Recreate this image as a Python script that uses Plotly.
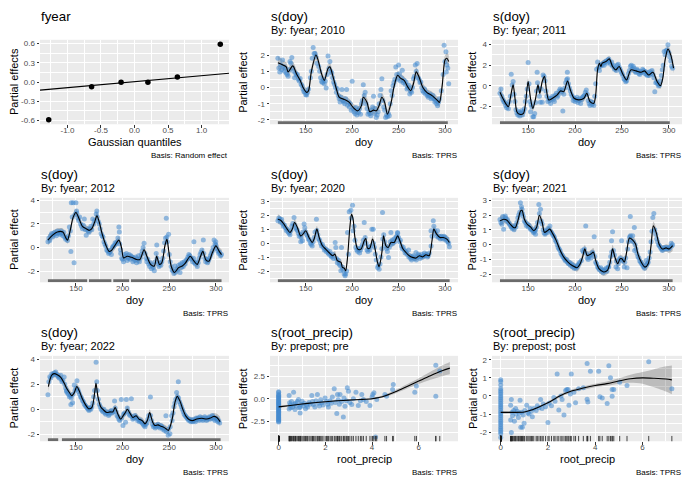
import plotly.graph_objects as go

W, H = 690, 487
OFF = 8            # page body margin of the browser
FW, FH = W - OFF, H - OFF
FONT = "Liberation Sans, Arial, Helvetica, sans-serif"

# ------------------------------------------------------------------ data
fyear_quantiles = [-1.28, -0.64, -0.20, 0.20, 0.64, 1.28]
fyear_effects = [-0.59, -0.075, -0.005, -0.005, 0.08, 0.59]
fyear_qqline_x = [-1.41, 1.41]
fyear_qqline_y = [-0.127, 0.138]

# smooth fits: (doy, estimate, half-width of interval)
fit_2010 = [
    (120, 1.52, 0.40), (126, 1.37, 0.30), (129, 1.27, 0.28), (131, 0.96, 0.26), (136, 1.33, 0.25),
    (140, 0.85, 0.25), (144, 0.44, 0.24), (147, 0.02, 0.24), (151, -0.30, 0.25), (153, -0.20, 0.25),
    (156, 0.96, 0.25), (161, 2.00, 0.27), (163, 1.75, 0.26), (167, 0.85, 0.25), (170, 0.44, 0.25),
    (174, 1.17, 0.26), (176, 1.27, 0.26), (179, 0.75, 0.25), (183, -0.08, 0.25), (186, -0.60, 0.24),
    (192, -0.75, 0.22), (197, -0.92, 0.22), (201, -1.23, 0.24), (206, -1.44, 0.25), (210, -1.12, 0.25),
    (212, -0.60, 0.26), (216, -0.92, 0.25), (219, -1.50, 0.25), (223, -1.40, 0.25), (226, -1.44, 0.25),
    (229, -1.12, 0.25), (232, -0.60, 0.27), (235, -0.92, 0.26), (238, -1.65, 0.28), (242, -0.92, 0.27),
    (245, 0.02, 0.26), (249, 0.75, 0.26), (252, 0.58, 0.25), (256, 0.44, 0.24), (260, 0.02, 0.25),
    (263, -0.20, 0.25), (266, 0.23, 0.26), (269, 0.96, 0.27), (272, 0.65, 0.26), (276, 0.02, 0.25),
    (281, -0.33, 0.24), (286, -0.50, 0.24), (292, -0.81, 0.25), (294, -0.92, 0.27), (297, 0.13, 0.28),
    (300, 1.69, 0.30), (302, 1.80, 0.33), (304, 1.60, 0.40)]

fit_2011 = [
    (120, -0.61, 0.50), (123, -1.19, 0.40), (126, -1.68, 0.35), (129, -2.00, 0.32), (131, -1.19, 0.32),
    (134, 0.10, 0.33), (136, -1.19, 0.32), (138, -2.48, 0.32), (141, -2.74, 0.30), (145, -2.65, 0.30),
    (147, -1.84, 0.32), (150, 0.42, 0.33), (152.5, -1.19, 0.32), (155, -2.16, 0.30), (158, -1.19, 0.30),
    (160.5, 0.10, 0.32), (162.5, -0.71, 0.30), (165, 0.42, 0.30), (167.5, 0.90, 0.32), (169.5, -0.39, 0.30),
    (172, -1.35, 0.30), (176, -1.19, 0.28), (181, -0.87, 0.27), (184.5, -0.48, 0.27), (188, -0.55, 0.27),
    (192, 0.48, 0.30), (195, -0.39, 0.28), (199, -1.19, 0.27), (204, -1.35, 0.27), (209.5, -1.19, 0.28),
    (212.5, -0.71, 0.28), (216, -1.52, 0.30), (220, -1.68, 0.30), (222, -0.87, 0.32), (224, 1.55, 0.33),
    (226, 2.19, 0.30), (227.5, 1.87, 0.28), (229, 2.19, 0.27), (233, 2.35, 0.26), (236.5, 2.61, 0.26),
    (240, 1.87, 0.26), (243.5, 1.55, 0.26), (247, 1.87, 0.26), (250.5, 1.23, 0.27), (255, 0.58, 0.28),
    (259.5, 1.55, 0.27), (265, 1.45, 0.26), (270.5, 1.32, 0.26), (274, 1.45, 0.26), (278.5, 1.06, 0.27),
    (283, 1.32, 0.28), (287.5, 0.42, 0.30), (291, 0.03, 0.32), (293.5, 0.74, 0.32), (296, 2.52, 0.33),
    (299, 3.55, 0.35), (302, 3.00, 0.40), (305, 1.71, 0.50)]

fit_2012 = [
    (120, 0.63, 0.45), (125, 1.05, 0.35), (130, 1.32, 0.30), (136, 1.32, 0.30), (139, 0.85, 0.30),
    (141, 0.63, 0.30), (143.5, 1.32, 0.30), (147, 2.56, 0.32), (150, 2.98, 0.32), (153.5, 2.42, 0.30),
    (157, 1.79, 0.30), (161, 1.60, 0.30), (164.5, 1.46, 0.30), (167, 1.60, 0.30), (170, 2.15, 0.30),
    (172.5, 2.70, 0.32), (175, 2.15, 0.30), (178, 1.18, 0.30), (182, 0.22, 0.28), (185.5, -0.33, 0.28),
    (188, -0.25, 0.30), (191.5, 0.14, 0.30), (196, 0.63, 0.30), (199, -0.06, 0.30), (201, -0.88, 0.28),
    (205, -0.74, 0.28), (209.5, -0.83, 0.28), (215, -1.02, 0.27), (218.5, -1.02, 0.27), (223, -0.19, 0.30),
    (226, -0.74, 0.28), (230, -1.43, 0.28), (234, -1.57, 0.28), (236.5, -0.74, 0.30), (239.5, -1.43, 0.28),
    (242, -1.29, 0.28), (245.5, 0.22, 0.30), (247.5, 0.69, 0.32), (249.5, -0.33, 0.30), (252, -1.57, 0.28),
    (255.5, -2.12, 0.27), (260, -1.71, 0.27), (264, -1.57, 0.27), (267, -1.35, 0.27), (272.5, -0.74, 0.28),
    (276.5, -1.16, 0.27), (280, -1.43, 0.27), (283.5, -0.74, 0.28), (286, -0.33, 0.30), (289, -1.02, 0.28),
    (292.5, -1.16, 0.28), (296, -0.47, 0.30), (300, 0.14, 0.32), (303.5, -0.33, 0.36), (306, -0.60, 0.45)]

fit_2020 = [
    (120, 1.71, 0.35), (123, 1.64, 0.28), (126.5, 1.36, 0.24), (130, 1.00, 0.22), (133, 0.76, 0.22),
    (135.5, 1.00, 0.22), (138, 1.48, 0.23), (141, 1.12, 0.22), (144.5, 0.52, 0.22), (147, 0.64, 0.22),
    (150, 0.88, 0.22), (153.5, 0.40, 0.21), (157, 0.05, 0.21), (159, 0.29, 0.22), (162, 1.00, 0.23),
    (164.5, 0.40, 0.22), (168, -0.19, 0.21), (171.5, -0.43, 0.21), (175, -0.67, 0.21), (179, -0.90, 0.21),
    (181.5, -0.79, 0.22), (184, -1.26, 0.22), (188, -1.38, 0.22), (189.5, -1.74, 0.22), (191.5, -1.79, 0.23),
    (193, -1.98, 0.23), (195, -1.02, 0.24), (197.5, 1.12, 0.25), (199.3, 2.07, 0.26), (201, 1.71, 0.25),
    (203, 0.40, 0.24), (206, -0.43, 0.22), (209.5, -0.43, 0.22), (213, 0.17, 0.23), (214.7, 0.33, 0.23),
    (216.5, -0.36, 0.22), (219, -0.36, 0.22), (222, 0.29, 0.23), (224.5, -0.36, 0.23), (227.3, -1.38, 0.23),
    (229, -1.69, 0.24), (232, -0.67, 0.24), (233.8, 0.52, 0.25), (236.3, -0.19, 0.23), (238.8, -0.31, 0.22),
    (241.7, 0.05, 0.22), (245.3, 0.05, 0.22), (249, 0.52, 0.23), (251.4, 0.17, 0.22), (254.3, -0.36, 0.21),
    (258, -0.67, 0.21), (261.5, -0.90, 0.21), (265, -1.02, 0.21), (268.7, -1.07, 0.21), (272.3, -0.90, 0.21),
    (276, -0.98, 0.21), (279.5, -0.83, 0.21), (283, -0.90, 0.22), (286, 0.17, 0.23), (288, 1.00, 0.24),
    (291, 0.64, 0.23), (294.6, 0.40, 0.23), (298, 0.40, 0.24), (302, 0.29, 0.28), (304.7, 0.05, 0.35)]

fit_2021 = [
    (120, 1.61, 0.35), (124, 1.72, 0.30), (127.5, 1.65, 0.27), (131, 1.38, 0.26), (134.5, 1.16, 0.26),
    (136.5, 1.16, 0.26), (139, 1.61, 0.26), (142, 2.28, 0.27), (143.5, 2.32, 0.27), (146, 1.72, 0.26),
    (149, 1.38, 0.25), (152.5, 1.20, 0.25), (156, 0.94, 0.25), (159, 1.16, 0.26), (162, 1.99, 0.27),
    (165, 1.50, 0.26), (167.5, 0.83, 0.25), (170.5, 0.94, 0.25), (173, 1.05, 0.25), (176.5, 0.71, 0.25),
    (180, 0.27, 0.25), (183.5, -0.29, 0.25), (188, -0.85, 0.25), (192.5, -1.18, 0.26), (197, -1.41, 0.26),
    (202, -1.56, 0.27), (205.5, -1.29, 0.27), (208, -0.85, 0.27), (210.5, -0.29, 0.28), (213, -0.74, 0.27),
    (217, -0.63, 0.27), (219.5, -0.51, 0.28), (222, -1.07, 0.27), (225.5, -1.63, 0.27), (230.5, -1.85, 0.27),
    (234.5, -1.74, 0.27), (237.5, -1.18, 0.27), (240, -0.29, 0.28), (242.5, -0.85, 0.27), (245.5, -1.29, 0.26),
    (248, -0.96, 0.26), (250, -0.96, 0.26), (252.5, -1.18, 0.26), (255, -0.51, 0.27), (258, 0.45, 0.28),
    (261.5, 0.31, 0.28), (264.5, 0.04, 0.28), (267, -0.63, 0.27), (270.5, -1.18, 0.27), (274.5, -1.52, 0.27),
    (278, -1.29, 0.27), (281, -0.07, 0.28), (283.5, 1.27, 0.29), (286.5, 0.83, 0.28), (289.5, 0.04, 0.27),
    (293, -0.29, 0.26), (297, -0.22, 0.27), (300.5, -0.29, 0.30), (304, -0.07, 0.36)]

fit_2022 = [
    (120.5, 1.81, 0.40), (122, 2.33, 0.32), (124, 2.71, 0.28), (126.5, 2.84, 0.26), (130, 2.76, 0.25),
    (134, 2.53, 0.25), (137.5, 2.07, 0.25), (140, 1.68, 0.25), (143, 1.34, 0.25), (145.5, 1.09, 0.25),
    (148, 1.29, 0.25), (151, 1.81, 0.26), (153.5, 1.47, 0.25), (156.5, 0.90, 0.25), (160, 0.39, 0.25),
    (163.5, 0.05, 0.25), (167, 0.13, 0.25), (170, 1.29, 0.27), (171.5, 2.07, 0.28), (173.5, 1.03, 0.27),
    (176.5, 0.21, 0.25), (179.5, -0.05, 0.25), (183, -0.26, 0.25), (186.5, -0.21, 0.25), (189.5, -0.21, 0.25),
    (192, 0.13, 0.26), (195, -0.39, 0.25), (198, -0.78, 0.25), (200.5, -0.52, 0.25), (203, -0.26, 0.25),
    (205, 0.00, 0.26), (208.5, -0.39, 0.25), (211, -0.65, 0.25), (214.5, -0.52, 0.25), (217.5, -0.78, 0.25),
    (221, -0.90, 0.25), (224, -1.16, 0.25), (226.5, -0.90, 0.25), (229, -0.26, 0.26), (232, -0.98, 0.25),
    (234.5, -1.29, 0.25), (238, -1.24, 0.25), (240.5, -1.34, 0.25), (243.5, -1.42, 0.25), (246.5, -1.55, 0.25),
    (249, -1.68, 0.25), (251.5, -1.24, 0.26), (253.5, -0.65, 0.27), (256, 0.52, 0.28), (258.5, 1.03, 0.28),
    (261.5, 0.65, 0.27), (264.5, 0.00, 0.26), (268, -0.57, 0.25), (271.5, -0.83, 0.25), (275, -0.90, 0.25),
    (279.5, -0.78, 0.25), (285, -0.72, 0.25), (290, -0.78, 0.25), (294, -0.70, 0.26), (297.5, -0.57, 0.27),
    (301, -0.65, 0.30), (304.5, -0.98, 0.38)]

fit_pre = [
    (0, -0.90, 0.15), (0.5, -0.74, 0.10), (1.0, -0.58, 0.08), (1.5, -0.44, 0.08), (2.0, -0.32, 0.08),
    (2.5, -0.22, 0.08), (3.0, -0.14, 0.08), (3.5, -0.07, 0.09), (4.0, 0.02, 0.10), (4.3, 0.15, 0.12),
    (4.6, 0.38, 0.15), (5.0, 0.80, 0.20), (5.5, 1.40, 0.25), (6.0, 2.00, 0.32), (6.5, 2.60, 0.45),
    (7.0, 3.15, 0.60), (7.33, 3.45, 0.70)]

fit_post = [
    (0, -0.91, 0.08), (0.5, -0.91, 0.05), (1.0, -0.89, 0.05), (1.3, -0.78, 0.05), (1.6, -0.62, 0.06),
    (2.0, -0.38, 0.07), (2.5, 0.00, 0.08), (3.0, 0.27, 0.08), (3.5, 0.44, 0.10), (4.0, 0.58, 0.10),
    (4.5, 0.68, 0.12), (5.0, 0.83, 0.15), (5.5, 0.95, 0.22), (6.0, 1.00, 0.32), (6.5, 0.98, 0.50),
    (7.0, 0.94, 0.70), (7.25, 0.89, 0.80)]

# partial residuals: (x, residual)
res_2010 = [
    (120, 1.8), (121, 1.2), (122, 0.95), (123, 1.4), (124, 1.1), (125, 1.7), (126, 1.3), (127, 1.0), (128, 1.2),
    (129, 0.9), (130, 0.8), (131, 0.7), (132, 1.1), (133, 1.6), (134, 1.5), (135, 1.85), (136, 1.2), (137, 1.0),
    (138, 0.6), (139, 0.9), (140, 0.75), (141, 0.8), (142, 0.5), (143, 0.4), (144, 0.55), (145, 0.2), (146, 0.1),
    (147, -0.1), (148, -0.25), (149, -0.3), (150, -0.45), (151, -0.46), (152, -0.3), (153, -0.1), (155, 0.6),
    (156, 1.0), (157, 1.8), (158, 2.46), (159, 2.1), (160, 2.1), (161, 1.9), (162, 1.5), (164, 1.3), (165, 1.0),
    (166, 0.6), (167, 0.37), (168, 0.3), (169, 0.5), (170, 0.23), (171, 0.4), (172, -0.04), (173, 0.8),
    (174, 1.94), (175, 1.17), (176, 1.6), (177, 1.0), (178, 0.9), (179, 0.6), (180, 0.33), (181, 0.2), (182, 0.0),
    (183, -0.3), (184, -0.08), (185, -0.5), (186, -0.7), (187, -0.9), (188, -0.6), (189, -0.13), (190, -0.8),
    (191, -0.9), (192, -1.0), (193, -0.7), (194, -0.13), (195, -1.1), (196, -0.9), (197, -1.2), (198, -1.0),
    (199, -1.4), (200, 0.38), (201, -1.3), (202, -1.5), (203, -1.6), (204, -1.23), (205, -1.7), (206, -1.4),
    (207, -1.55), (208, -1.3), (209, -1.65), (210, -1.0), (211, -0.8), (212, 0.17), (213, -0.5), (214, -0.3),
    (215, -1.0), (216, -1.3), (217, -1.65), (218, -1.5), (219, -1.6), (220, -1.75), (221, -1.4), (222, -1.2),
    (223, -0.54), (224, -1.6), (225, -1.3), (226, -1.85), (227, -1.7), (228, -1.5), (229, -1.0), (230, -0.5),
    (231, -0.13), (232, 0.54), (233, -0.8), (234, -1.2), (235, -1.4), (236, -1.85), (237, -1.7), (238, -1.8),
    (239, -1.6), (240, -1.75), (241, -1.0), (242, -0.2), (243, -0.5), (244, 0.1), (245, 0.3), (246, 0.5),
    (247, 1.27), (248, 0.8), (249, 0.5), (250, 1.38), (251, 0.85), (252, 0.4), (253, 0.6), (254, 1.06), (255, 0.3),
    (256, 0.45), (257, 0.2), (258, 0.33), (259, -0.1), (260, 0.0), (261, 0.13), (262, -0.4), (263, -0.2),
    (264, -0.3), (265, 0.0), (266, 0.54), (267, 0.7), (268, 1.38), (269, 1.0), (270, 1.48), (271, 0.6), (272, 0.5),
    (273, 0.3), (274, 0.33), (275, 0.0), (276, -0.2), (277, -0.3), (278, -0.1), (279, -0.4), (280, -0.3),
    (281, -0.5), (282, -0.6), (283, -0.5), (284, -0.4), (285, -0.7), (286, -0.6), (287, -0.5), (288, -0.7),
    (289, -0.9), (290, -0.8), (291, -1.0), (292, -1.12), (293, -0.9), (294, -0.7), (296, -0.2), (298, 0.8),
    (299, 2.6), (300, 1.6), (301, 2.2), (301.4, 0.96), (302, 1.38), (303, 1.2), (304, 0.23)]

res_2011 = [
    (120, -0.7), (121, -0.3), (122, -1.0), (123, -1.3), (124, -1.5), (125, -1.6), (126, -1.9), (127, -2.1),
    (128, -1.8), (129, -2.2), (130, -1.5), (131, -1.0), (132, 1.13), (133, 0.1), (134, 0.42), (135, -0.8),
    (136, -1.5), (137, -2.3), (138, -2.6), (139, -2.8), (140, -2.5), (141, -2.9), (142, -2.6), (143, -2.4),
    (144, -2.8), (145, -2.5), (146, -2.2), (147, -1.5), (148, -1.0), (149, -0.3), (150, 2.26), (151, 0.2),
    (152, -1.5), (152.5, -2.48), (153, -1.8), (154, -2.0), (155, -2.97), (156, -2.97), (157, -2.65), (158, -1.6),
    (159, -0.5), (159.6, 1.32), (160, 0.3), (161, -0.2), (162, -1.0), (163, -1.58), (164, -0.3), (165, -1.58),
    (166, 1.06), (167, 0.9), (168, 0.5), (169, -0.5), (170, -1.0), (171, -1.5), (172, -1.2), (173, -1.4),
    (174, -1.7), (175, -1.2), (176, -1.0), (177, -1.3), (178, -1.5), (179, -0.9), (180, -0.7), (181, -1.1),
    (182, -0.9), (183, -0.5), (184, -0.3), (185, -0.6), (186, -0.4), (187, -2.42), (188, -0.8), (189, -0.2),
    (190, 0.3), (191, 0.6), (191.8, 1.32), (192, 0.7), (193, 0.2), (194, -0.2), (195, -0.5), (196, -0.8),
    (197, -1.0), (198, -1.4), (199, -1.2), (200, -1.5), (201, -1.3), (202, -1.1), (203, -1.6), (204, -1.4),
    (205, -1.2), (206, -1.7), (207, -1.3), (208, -1.1), (209, -1.0), (210, -0.9), (211, -0.6), (212, -0.4),
    (213, -0.8), (214, -1.4), (215, -1.7), (216, -1.9), (217, -1.5), (218, -1.8), (219, -1.6), (220, -1.9),
    (221, -1.0), (222, 0.2), (223, 1.6), (224, 2.3), (225, 1.8), (226, 1.5), (227, 1.9), (228, 2.1), (229, 2.0),
    (230, 2.2), (231, 2.0), (232, 2.3), (233, 2.4), (234, 2.2), (235, 2.5), (236, 2.6), (237, 2.3), (238, 2.1),
    (239, 2.3), (240, 1.9), (241, 2.0), (242, 1.6), (243, 1.7), (244, 1.5), (245, 2.0), (246, 2.1), (247, 1.8),
    (248, 1.6), (249, 1.4), (250, 1.2), (251, 1.0), (252, 0.7), (253, 0.6), (254, 0.4), (255, 0.5), (256, 0.8),
    (257, 1.2), (258, 1.5), (259, 1.9), (260, 2.0), (261, 1.6), (262, 1.9), (263, 1.7), (264, 1.4), (265, 1.3),
    (266, 1.6), (267, 1.5), (268, 1.2), (269, 1.1), (270, 1.4), (271, 1.3), (272, 1.6), (273, 1.5), (274, 1.2),
    (275, 1.4), (276, 1.1), (277, 1.0), (278, 1.3), (279, 1.0), (280, 1.4), (281, 1.2), (282, 1.5), (283, 1.1),
    (284, 0.8), (285, -0.55), (286, 0.3), (287, 0.4), (288, 0.2), (289, 0.0), (290, 0.1), (291, 0.5), (292, 1.0),
    (293, 1.55), (294, 2.0), (295, 3.32), (296, 3.0), (297, 3.4), (298, 3.5), (299, 3.97), (300, 3.2),
    (301, 2.8), (302, 2.4), (303, 1.9), (304, 1.7)]

res_2012 = [
    (120, 0.5), (121, 0.8), (122, 0.6), (123, 1.0), (124, 1.2), (125, 0.9), (126, 1.1), (127, 1.3), (128, 1.2),
    (129, 1.0), (130, 1.4), (131, 1.2), (132, 1.3), (133, 1.1), (134, 1.4), (135, 1.2), (136, 1.0), (137, 1.3),
    (138, 0.9), (139, 0.7), (140, 0.8), (141, 0.6), (142, 1.0), (143, 1.74), (144, 1.4), (144.6, -0.33),
    (145, 3.8), (146, 2.6), (147, 3.8), (148, -1.29), (149, 2.8), (150, 3.8), (150.7, 3.1), (151, 2.9),
    (152, 2.5), (153, 2.3), (154, 2.6), (155, 2.0), (156, 1.8), (157, 1.6), (158, 1.9), (159, 2.42), (160, 1.5),
    (161, 1.05), (162, 1.6), (163, 1.4), (164, 1.3), (165, 1.6), (166, 1.8), (167, 1.5), (168, 2.42), (169, 2.0),
    (170, 2.3), (171.7, 2.84), (172.4, 3.1), (173, 2.6), (174, 2.2), (175, 2.0), (176, 1.6), (177, 1.2),
    (178, 1.0), (179, 0.9), (180, 0.5), (181, 0.3), (182, 0.1), (183, -0.2), (184, -0.3), (185, -0.5),
    (186, -0.4), (187, -0.2), (188, -0.6), (189, 0.0), (190, 0.1), (191, 0.2), (192, 0.4), (193, 0.3), (194, 0.5),
    (195, 0.8), (196, 1.74), (196.5, 1.32), (197, 0.3), (197.7, -0.19), (198, -0.5), (199, -0.9), (200, -1.0),
    (201, -1.2), (202, -0.6), (203, -0.8), (204, -0.5), (205, -1.1), (206, -0.9), (207, -0.6), (208, -1.0),
    (209, -0.7), (210, -0.8), (211, -1.2), (212, -0.9), (213, -1.1), (214, -0.8), (215, -1.3), (216, -1.0),
    (217, -0.7), (218, -1.2), (219, -0.9), (220, -0.6), (221, -0.3), (222, 0.0), (223, 0.36), (224, -0.5),
    (225, -0.9), (226, -1.2), (227, -1.0), (228, -1.4), (229, -1.6), (230, -1.3), (231, -1.8), (232, -1.5),
    (233, -1.7), (234, -1.98), (235, -1.2), (236, -0.5), (236.6, 0.22), (237, -0.9), (238, -1.4), (239, -1.6),
    (240, -1.3), (241, -1.5), (242, -1.2), (243, -0.9), (244, -0.3), (245, 0.4), (246, 0.8), (246.8, 2.48),
    (247.5, 0.9), (248, 0.5), (249.3, 1.13), (250, -0.6), (251, -1.2), (252, -1.6), (253, -1.9), (254, -2.0),
    (255, -2.2), (256, -1.57), (257, -2.1), (258, -1.8), (259, -1.9), (260, -1.5), (261.5, -2.12), (262, -1.4),
    (263, -1.7), (264, -1.3), (265, -1.6), (266, -1.2), (267, -1.4), (268, -1.1), (269, -1.0), (270, -0.8),
    (271, -0.6), (272, -0.7), (273, -0.9), (274, -1.0), (275, -1.2), (276, -0.9), (276.4, 0.5), (277, -1.3),
    (278, -1.4), (279, -1.2), (280, -1.6), (281, -1.3), (282, -0.9), (283, -0.6), (284, -0.4), (285, -0.2),
    (286.5, 0.63), (287, -0.5), (288, -0.9), (289, -1.2), (290, -1.0), (291, -1.3), (292, -1.1), (293, -0.9),
    (294, -0.7), (295, -0.5), (296, -0.3), (297, 0.0), (298, 0.63), (299, 0.3), (299.8, 0.5), (300, 0.2),
    (301, -0.1), (302, -0.3), (303, -0.5), (304, -0.4), (305, -0.7), (306, -0.6)]

res_2020 = [
    (120, 1.6), (121, 1.8), (122, 1.7), (123, 1.5), (124, 1.7), (125, 1.4), (126, 1.2), (127, 1.3), (128, 1.1),
    (129, 0.9), (130, 1.0), (131, 0.8), (132, 0.7), (133, 0.6), (134, 0.9), (135, 1.2), (136, 1.4), (137.4, 1.83),
    (138, 1.3), (139, 1.1), (140, 1.0), (141, 0.9), (142, 0.7), (143, 0.5), (144, 0.6), (144.6, 0.1), (145, 0.4),
    (146.4, 0.17), (147, 0.8), (148.2, 1.36), (149, 1.1), (150, 0.8), (151, 0.6), (152, 0.5), (153, 0.3),
    (154, 0.2), (155, 0.0), (156, -0.1), (157, -0.2), (158, 0.1), (159, 0.4), (160, 0.8), (161.5, 1.71),
    (162, 0.9), (163, 0.6), (164, 0.3), (165, 0.2), (166, 0.0), (167, -0.2), (168, -0.1), (169, -0.3),
    (170, -0.5), (171, -0.4), (172, -0.6), (173, -0.5), (174, -0.7), (175, -0.8), (176, -0.6), (177, -0.9),
    (178, -1.0), (179, -0.8), (180, -1.1), (181.7, 0.05), (182.4, -0.31), (183, -1.1), (184, -1.4), (185, -1.2),
    (186, -1.5), (187, -1.6), (187.8, -1.98), (188.5, -0.31), (189, -1.7), (190, -1.9), (191.4, -2.21),
    (192.4, -2.33), (193, -2.2), (194, -2.0), (195, 0.76), (196, -0.8), (196.8, 2.24), (198.6, 2.36), (199, 1.8),
    (200.4, 2.71), (201, 0.88), (202, 1.2), (203, 0.2), (204, -0.3), (205, -0.5), (206, -0.6), (207, -0.4),
    (208, -0.7), (209, -0.5), (210, -0.3), (211, -0.1), (212, 0.2), (213, 1.48), (214, 0.4), (215, 0.0),
    (216, -0.5), (217, -0.6), (218, -0.3), (219, -0.5), (220, -0.2), (221.2, 1.0), (222.7, 1.0), (223, 0.0),
    (224, -0.3), (225, -0.8), (226, -1.2), (227.3, -1.74), (228, -1.6), (229.1, -1.86), (230, -1.5), (231, -1.0),
    (232, -0.4), (232.7, 2.19), (233, 0.3), (234, 0.6), (235, 0.1), (236, -0.2), (237, -0.4), (238, -0.6),
    (239.2, -1.02), (240, -0.3), (241, 0.1), (241.7, 0.76), (242, -0.1), (243, 0.2), (244, 0.0), (245, 0.3),
    (246, 0.1), (247, 0.4), (248, 0.5), (248.9, 0.76), (249, 0.7), (250, 0.4), (251, 0.1), (252, 0.2),
    (253, -0.2), (254, -0.4), (255, -0.3), (256, -0.5), (257, -0.7), (258, -0.6), (259, -0.8), (260.8, -0.5),
    (261, -1.0), (262, -0.9), (263, -1.1), (264, -1.2), (265, -1.0), (266, -0.9), (267, -1.1), (268.7, -0.67),
    (269, -1.2), (270, -1.0), (271, -0.8), (272, -0.9), (273, -1.1), (274, -1.0), (275, -0.8), (276, -1.0),
    (277, -0.9), (278, -0.7), (279, -0.9), (280, -0.8), (281, -1.0), (282, -0.9), (283, -0.7), (284.9, 0.88),
    (285, -0.2), (286, 0.5), (287.4, 1.6), (288, 1.2), (289, 0.9), (290, 0.7), (291, 0.5), (292, 0.88),
    (293, 0.4), (294, 0.5), (295, 0.3), (296, 0.5), (297, 0.4), (298, 0.3), (299, 0.5), (300, 0.4), (301, 0.2),
    (302, 0.3), (303, 0.1), (304, 0.0), (304.7, -0.26)]

res_2021 = [
    (120, 1.7), (121, 1.5), (122, 1.38), (123, 1.9), (123.9, 1.05), (124, 1.7), (125.7, 1.94), (126, 1.8),
    (127, 1.6), (128, 1.7), (129, 1.5), (130, 1.4), (131, 1.3), (132, 1.2), (133, 1.1), (134, 1.2), (135, 1.0),
    (136, 1.3), (137, 1.2), (138, 1.5), (139, 1.8), (140, 2.0), (141, 2.2), (141.8, 2.83), (142.9, 2.57),
    (143.5, 2.4), (144, 2.1), (145, 1.9), (146, 1.6), (147, 1.5), (148, 1.3), (149, 1.4), (150, 1.2), (151, 1.3),
    (152.5, 1.05), (153, 1.1), (154, 1.0), (155, 0.9), (156, 0.8), (157, 0.9), (157.9, 0.71), (158, 1.0),
    (159, 1.2), (160, 1.5), (161.4, 2.72), (162, 2.1), (163.2, 2.39), (164, 1.6), (165, 1.4), (166, 1.0),
    (167, 0.8), (168, 0.7), (169, 0.9), (170, 0.8), (171, 1.1), (172, 1.0), (173.2, 1.27), (174, 0.9), (175, 0.8),
    (176, 0.7), (177, 0.6), (178, 0.5), (179, 0.3), (180, 0.2), (181, 0.0), (182, -0.2), (183, -0.3), (184, -0.4),
    (185, -0.6), (186, -0.7), (187, -0.8), (188, -0.9), (189, -1.0), (190, -1.1), (191, -1.0), (192, -1.2),
    (193, -1.3), (194, -1.2), (195, -1.4), (196, -1.3), (197, -1.5), (198, -1.4), (199, -1.6), (200, -1.5),
    (201, -1.6), (202, -1.5), (203, -1.4), (204, -1.3), (205, -1.2), (206.8, -1.07), (207.9, -0.4), (209, -0.5),
    (210, -0.3), (211.4, 1.27), (212, -0.6), (213, -0.9), (214, -1.0), (215, -0.8), (216, -0.7), (217, -0.9),
    (218.6, -0.51), (219, -0.6), (220.4, 0.54), (221, -0.8), (222, -1.2), (223, -1.3), (224, -1.5), (225, -1.6),
    (226, -1.7), (227.5, -1.56), (228, -1.8), (229, -1.7), (230, -1.9), (231, -1.8), (232, -1.7), (233, -1.6),
    (234, -1.8), (235.4, -1.52), (236, -1.5), (237, -1.2), (238, -0.8), (238.9, 0.27), (239, -0.5), (240, 0.87),
    (241, -0.4), (242, -0.7), (243.6, -1.52), (244, -1.1), (245.4, -1.63), (246, -1.3), (247, -1.0), (248, -0.9),
    (249.6, 0.27), (250, -1.1), (251, -1.0), (252.5, -1.52), (253, -1.2), (254, -0.9), (255.4, -1.56),
    (256, -0.3), (257, 0.2), (258, 0.5), (258.9, 1.9), (259, 0.6), (260, 0.3), (261.4, 0.6), (262, 0.2),
    (263.2, 1.16), (263.5, -0.4), (264, 0.0), (265, -0.3), (266, -0.6), (267, -0.8), (268, -0.9), (269, -1.1),
    (270, -1.2), (271, -1.3), (272, -1.4), (273, -1.5), (274, -1.6), (275.7, -1.07), (276, -1.4), (277, -1.3),
    (278, -1.2), (279, -0.9), (280, -0.5), (281, 0.2), (282, 0.9), (282.9, 1.83), (284, 2.1), (285, 1.0),
    (286, 0.7), (287, 0.4), (288, 0.2), (289, 0.0), (290, -0.1), (291, -0.2), (292, -0.3), (293, -0.4),
    (294, -0.3), (295, -0.2), (296, -0.3), (297, -0.2), (298, -0.3), (299, -0.2), (300, -0.3), (301, -0.2),
    (302.5, 0.09), (303, -0.1), (304, 0.0)]

res_2022 = [
    (120, 1.16), (121, 2.2), (122, 2.6), (123, 2.5), (124.1, 2.84), (125, 2.7), (126, 2.8), (127, 2.9),
    (128.4, 2.97), (129, 2.8), (130, 2.7), (131, 2.6), (132, 2.5), (133.8, 2.71), (134, 2.4), (135, 2.2),
    (136, 2.3), (137.4, 2.58), (138, 2.0), (139, 1.7), (139.9, 1.42), (140, 1.5), (141, 1.3), (142, 1.2),
    (143, 1.0), (144, 1.1), (144.6, 0.39), (145, 0.9), (146.4, 0.52), (147, 1.2), (148.2, 1.94), (149, 1.5),
    (150, 1.7), (151.1, 2.27), (152, 1.6), (153, 1.4), (154, 1.2), (155, 1.0), (156, 0.9), (157, 0.7), (158, 0.6),
    (159, 0.4), (160, 0.3), (161, 0.2), (162, 0.1), (163, 0.0), (164, -0.1), (165, 0.1), (166, 0.0), (167, 0.2),
    (168, 0.5), (169, 1.0), (170, 1.5), (171.6, 3.75), (172.3, 2.2), (173, 1.5), (174, 0.8), (175, 0.4),
    (176, 0.2), (177, 0.0), (178, -0.1), (179, -0.2), (180, 0.0), (181, -0.3), (182, -0.4), (183, -0.2),
    (184, -0.3), (185, -0.5), (186, -0.4), (187, -0.2), (188, -0.1), (189, -0.3), (190, -0.2), (191.4, 0.65),
    (192, 0.1), (193, -0.2), (194, -0.5), (195, -0.6), (196, -0.8), (197, -0.9), (198.6, 0.78), (199, -0.7),
    (200.4, -1.29), (201, -0.4), (202, -0.3), (203.2, -1.03), (204, 0.78), (205, 0.1), (206, -0.2), (207, -0.4),
    (208, -0.5), (209.4, 0.83), (210, -0.6), (211, -0.8), (212, -0.7), (213, -0.5), (214, -0.6), (215, -0.7),
    (216, -0.9), (217, -0.8), (218, -1.0), (219, -0.9), (220, -1.0), (221, -1.1), (222, -1.2), (223, -1.3),
    (224, -1.4), (225, -1.2), (226, -1.1), (227, -0.8), (228, -0.5), (229.8, 0.98), (230, -0.5), (231, -0.9),
    (232, -1.2), (233, -1.4), (234, -1.3), (235, -1.5), (236, -1.4), (237, -1.3), (238, -1.2), (239, -1.4),
    (240, -1.5), (241, -1.3), (242, -1.4), (243, -1.6), (244, -1.5), (245, -1.7), (246.4, -0.52), (247, -1.8),
    (248.9, -2.07), (249, -1.6), (250.7, -1.94), (251, -1.4), (252.5, -0.52), (253, -0.9), (254, -0.3),
    (255, 0.2), (256, 0.5), (257, 0.8), (257.9, 1.34), (258.6, 1.0), (259.7, 2.2), (260, 0.9), (261, 0.6),
    (262, 0.4), (263, 0.2), (264, 0.0), (265, -0.2), (266, -0.4), (267, -0.5), (268, -0.6), (269, -0.7),
    (270, -0.8), (271, -0.9), (272, -0.8), (273, -1.0), (274, -0.9), (275, -1.0), (276, -0.8), (277, -0.9),
    (278, -1.0), (279, -0.7), (280, -0.8), (281, -0.7), (282, -0.9), (283, -0.6), (284, -0.8), (285, -0.7),
    (286, -0.9), (287, -0.8), (288, -0.6), (289, -0.7), (290, -0.9), (291, -0.8), (292, -0.7), (293, -0.6),
    (294, -0.8), (295, -0.7), (296, -0.5), (297, -0.6), (298, -0.8), (299, -0.9), (300, -0.7), (301, -0.8),
    (302, -1.0), (303, -0.9), (304, -1.1)]

res_pre = [
    (0, 0.8), (0, 0.7), (0, 0.5), (0, 0.4), (0, 0.3), (0, 0.2), (0, 0.1), (0, 0.0), (0, -0.1), (0, -0.2),
    (0, -0.3), (0, -0.4), (0, -0.5), (0, -0.6), (0, -0.7), (0, -0.8), (0, -0.9), (0, -1.0), (0, -1.1),
    (0, -1.2), (0, -1.3), (0, -1.4), (0, -1.5), (0, -1.6), (0, -1.7), (0, -1.8), (0, -1.9), (0, -2.0),
    (0, -2.1), (0, -2.2), (0, -2.3), (0, -2.4), (0, -2.5), (0, -2.6),
    (0.45, 0.38), (0.45, -1.13), (0.47, -0.45), (0.5, -0.7), (0.52, -1.0), (0.55, -0.3), (0.6, -0.9),
    (0.64, 0.75), (0.66, -0.6), (0.7, -1.2), (0.72, -0.5), (0.75, -0.8), (0.8, -0.3), (0.85, -0.08),
    (0.88, -1.0), (0.92, -1.58), (0.92, -0.9), (0.95, -0.6), (1.0, -0.26), (1.05, -0.8), (1.1, -0.5),
    (1.15, -1.1), (1.2, -0.7), (1.24, -0.9), (1.3, -0.4), (1.35, -0.6), (1.42, 0.38), (1.45, -0.3),
    (1.49, -0.64), (1.55, -0.9), (1.6, -0.2), (1.66, 0.49), (1.7, -0.5), (1.75, -0.8), (1.8, -0.1),
    (1.85, -0.45), (1.9, -0.7), (1.99, 0.11), (2.05, -0.3), (2.1, -0.6), (2.13, -0.9), (2.2, -0.2),
    (2.25, -0.5), (2.3, 0.2), (2.38, 1.13), (2.42, -0.4), (2.49, -1.65), (2.52, 0.49), (2.55, -0.1),
    (2.6, -0.6), (2.63, 0.49), (2.7, -0.3), (2.77, -2.03), (2.8, 0.1), (2.84, -0.83), (2.9, -0.2),
    (2.94, 1.24), (2.99, 0.86), (3.05, -0.4), (3.13, -0.64), (3.2, 0.0), (3.31, 0.75), (3.41, -0.75),
    (3.5, -0.2), (3.56, 0.49), (3.63, -0.08), (3.75, -0.3), (3.91, -0.75), (4.0, 0.2), (4.03, 0.49),
    (4.08, 0.68), (4.15, -4.29), (4.2, -0.08), (4.55, 0.49), (4.62, 0.3), (4.88, 1.05), (4.91, 1.62),
    (5.83, 0.75), (5.9, 1.43), (6.73, 3.76), (6.73, 0.3), (6.9, 3.12)]

res_post = [
    (0, 0.9), (0, 0.8), (0, 0.6), (0, 0.4), (0, 0.3), (0, 0.2), (0, 0.1), (0, 0.0), (0, -0.1), (0, -0.2),
    (0, -0.3), (0, -0.4), (0, -0.5), (0, -0.6), (0, -0.7), (0, -0.8), (0, -0.9), (0, -1.0), (0, -1.1),
    (0, -1.2), (0, -1.3), (0, -1.4), (0, -1.5), (0, -1.6), (0, -1.7), (0, -1.8), (0, -1.9), (0, -2.0),
    (0, -2.1), (0, -2.3),
    (0.42, -0.51), (0.42, -1.33), (0.45, -0.2), (0.45, -2.02), (0.48, -0.9), (0.5, -1.1), (0.55, -0.8),
    (0.58, -1.4), (0.63, -0.69), (0.65, -1.0), (0.7, -0.85), (0.75, -1.2), (0.78, -0.95), (0.82, -0.24),
    (0.85, -1.73), (0.88, -0.9), (0.92, -1.73), (0.95, -1.05), (0.99, -1.51), (1.02, -0.8), (1.1, -0.51),
    (1.15, -0.95), (1.2, -1.0), (1.25, -0.7), (1.3, -0.85), (1.34, -1.15), (1.4, -0.7), (1.5, -0.8),
    (1.55, -0.55), (1.62, -0.65), (1.69, -0.2), (1.75, -0.7), (1.8, -0.45), (1.9, -0.6), (2.0, -1.47),
    (2.05, -0.4), (2.15, -0.55), (2.25, -0.09), (2.3, -0.3), (2.39, 1.22), (2.46, -0.78), (2.55, 0.0),
    (2.6, -0.2), (2.68, -1.05), (2.75, 0.3), (2.8, 0.35), (2.85, 0.35), (2.89, -0.51), (2.95, 0.1),
    (2.99, 1.22), (3.1, 0.2), (3.17, -0.38), (3.3, 0.4), (3.5, 0.45), (3.66, 1.8), (3.66, -0.18),
    (3.69, -0.33), (3.8, 1.36), (4.15, 1.36), (4.2, -0.05), (4.3, -0.11), (4.51, -0.42), (4.58, 1.67),
    (4.65, 1.0), (4.72, 0.35), (4.72, -0.02), (4.79, 0.35), (5.04, 0.76), (5.35, 0.58), (6.27, 1.89),
    (7.25, 0.4)]

# rug: observed day-of-year runs
rug_2010 = [(120, 303)]
rug_2011 = [(120, 301)]
rug_2012 = [(120, 162), (164, 188), (190, 207), (209, 306)]
rug_2020 = [(120, 305)]
rug_2021 = [(120, 304)]
rug_2022 = [(120, 131), (135, 305)]

# axis ticks
q_ticks = [-1.0, -0.5, 0.0, 0.5, 1.0]
q_ticktext = ["-1.0", "-0.5", "0.0", "0.5", "1.0"]
q_minor = [-1.25, -0.75, -0.25, 0.25, 0.75, 1.25]
qe_ticks = [-0.6, -0.3, 0.0, 0.3, 0.6]
qe_ticktext = ["-0.6", "-0.3", "0.0", "0.3", "0.6"]
qe_minor = [-0.45, -0.15, 0.15, 0.45]
doy_ticks = [150, 200, 250, 300]
doy_ticktext = ["150", "200", "250", "300"]
doy_minor = [125, 175, 225, 275]
y1_ticks = [-2, -1, 0, 1, 2, 3]
y1_ticktext = ["-2", "-1", "0", "1", "2", "3"]
y1_minor = [-2.5, -1.5, -0.5, 0.5, 1.5, 2.5]
y2_ticks = [-2, 0, 2, 4]
y2_ticktext = ["-2", "0", "2", "4"]
y2_minor = [-3, -1, 1, 3]
rp_ticks = [0, 2, 4, 6]
rp_ticktext = ["0", "2", "4", "6"]
rp_minor = [1, 3, 5, 7]
pre_yticks = [-2.5, 0.0, 2.5]
pre_yticktext = ["-2.5", "0.0", "2.5"]
pre_yminor = [-3.75, -1.25, 1.25, 3.75]

panels = [
    dict(kind="qq", title="fyear", sub=None, xlab="Gaussian quantiles", ylab="Partial effects",
         cap="Basis: Random effect", xr=[-1.41, 1.41], yr=[-0.66, 0.66],
         xt=(q_ticks, q_ticktext, q_minor), yt=(qe_ticks, qe_ticktext, qe_minor)),
    dict(kind="doy", fit=fit_2010, res=res_2010, rug=rug_2010, title="s(doy)", sub="By: fyear; 2010",
         xlab="doy", ylab="Partial effect", cap="Basis: TPRS", xr=[111.5, 314], yr=[-2.27, 2.94],
         xt=(doy_ticks, doy_ticktext, doy_minor), yt=(y1_ticks, y1_ticktext, y1_minor)),
    dict(kind="doy", fit=fit_2011, res=res_2011, rug=rug_2011, title="s(doy)", sub="By: fyear; 2011",
         xlab="doy", ylab="Partial effect", cap="Basis: TPRS", xr=[111.5, 314], yr=[-3.7, 4.45],
         xt=(doy_ticks, doy_ticktext, doy_minor), yt=(y2_ticks, y2_ticktext, y2_minor)),
    dict(kind="doy", fit=fit_2012, res=res_2012, rug=rug_2012, title="s(doy)", sub="By: fyear; 2012",
         xlab="doy", ylab="Partial effect", cap="Basis: TPRS", xr=[111.5, 314], yr=[-2.95, 4.22],
         xt=(doy_ticks, doy_ticktext, doy_minor), yt=(y2_ticks, y2_ticktext, y2_minor)),
    dict(kind="doy", fit=fit_2020, res=res_2020, rug=rug_2020, title="s(doy)", sub="By: fyear; 2020",
         xlab="doy", ylab="Partial effect", cap="Basis: TPRS", xr=[111.5, 314], yr=[-2.8, 3.24],
         xt=(doy_ticks, doy_ticktext, doy_minor), yt=(y1_ticks, y1_ticktext, y1_minor)),
    dict(kind="doy", fit=fit_2021, res=res_2021, rug=rug_2021, title="s(doy)", sub="By: fyear; 2021",
         xlab="doy", ylab="Partial effect", cap="Basis: TPRS", xr=[111.5, 314], yr=[-2.55, 3.17],
         xt=(doy_ticks, doy_ticktext, doy_minor), yt=(y1_ticks, y1_ticktext, y1_minor)),
    dict(kind="doy", fit=fit_2022, res=res_2022, rug=rug_2022, title="s(doy)", sub="By: fyear; 2022",
         xlab="doy", ylab="Partial effect", cap="Basis: TPRS", xr=[111.5, 314], yr=[-2.55, 4.26],
         xt=(doy_ticks, doy_ticktext, doy_minor), yt=(y2_ticks, y2_ticktext, y2_minor)),
    dict(kind="rp", fit=fit_pre, res=res_pre, title="s(root_precip)", sub="By: prepost; pre",
         xlab="root_precip", ylab="Partial effect", cap="Basis: TPRS", xr=[-0.37, 7.68], yr=[-4.76, 4.83],
         xt=(rp_ticks, rp_ticktext, rp_minor), yt=(pre_yticks, pre_yticktext, pre_yminor)),
    dict(kind="rp", fit=fit_post, res=res_post, title="s(root_precip)", sub="By: prepost; post",
         xlab="root_precip", ylab="Partial effect", cap="Basis: TPRS", xr=[-0.37, 7.68], yr=[-2.51, 2.22],
         xt=(rp_ticks, rp_ticktext, rp_minor), yt=(y1_ticks[:5], y1_ticktext[:5], y1_minor[1:5])),
]

# ------------------------------------------------------------------ layout geometry (window pixels)
cols = [(40, 229), (270, 458), (492, 682)]
rows = [(38, 123), (197, 282), (356, 442)]

PT_COL = "rgba(66,136,206,0.55)"
BAND = "rgba(0,0,0,0.2)"


def fx(px):
    return (px - OFF) / FW


def fy(py):
    return 1 - (py - OFF) / FH


fig = go.Figure()
axes = {}
annotations = []


def ann(text, x, y, size, xanchor="left", angle=0, color="black"):
    annotations.append(dict(text=text, x=fx(x), y=fy(y), xref="paper", yref="paper",
                            xanchor=xanchor, yanchor="middle", showarrow=False, textangle=angle,
                            font=dict(size=size, family=FONT, color=color)))


def axis_dict(domain, anchor, rng, ticks, standoff):
    tv, tt, mv = ticks
    return dict(domain=domain, anchor=anchor, range=rng, tickmode="array", tickvals=tv, ticktext=tt,
                ticks="outside", ticklen=2.5, tickwidth=1, tickcolor="#333333",
                tickfont=dict(size=8, color="#4D4D4D", family=FONT), ticklabelstandoff=standoff,
                showgrid=True, gridcolor="white", gridwidth=1.1, zeroline=False, showline=False,
                fixedrange=True,
                minor=dict(tickmode="array", tickvals=mv, showgrid=True, gridcolor="white", gridwidth=0.5))


for i, p in enumerate(panels, start=1):
    r, c = divmod(i - 1, 3)
    x0, x1 = cols[c]
    y0, y1 = rows[r]
    xa = "x" if i == 1 else f"x{i}"
    ya = "y" if i == 1 else f"y{i}"
    axes["xaxis" if i == 1 else f"xaxis{i}"] = axis_dict([fx(x0), fx(x1)], ya, p["xr"], p["xt"], -4)
    axes["yaxis" if i == 1 else f"yaxis{i}"] = axis_dict([fy(y1), fy(y0)], xa, p["yr"], p["yt"], 0)

    ylo, yhi = p["yr"]
    per_px = (yhi - ylo) / (y1 - y0)
    common = dict(xaxis=xa, yaxis=ya, showlegend=False, hoverinfo="skip")

    if p["kind"] == "qq":
        fig.add_trace(go.Scatter(x=fyear_qqline_x, y=fyear_qqline_y, mode="lines",
                                 line=dict(color="black", width=1.1), **common))
        fig.add_trace(go.Scatter(x=fyear_quantiles, y=fyear_effects, mode="markers",
                                 marker=dict(color="black", size=5.5), **common))
    else:
        d = [t[0] for t in p["fit"]]
        f = [t[1] for t in p["fit"]]
        lo = [t[1] - t[2] for t in p["fit"]]
        hi = [t[1] + t[2] for t in p["fit"]]
        fig.add_trace(go.Scatter(x=d, y=lo, mode="lines",
                                 line=dict(width=0, shape="spline", smoothing=0.8), **common))
        fig.add_trace(go.Scatter(x=d, y=hi, mode="lines", fill="tonexty", fillcolor=BAND,
                                 line=dict(width=0, shape="spline", smoothing=0.8), **common))
        rx = [t[0] for t in p["res"]]
        ry = [t[1] for t in p["res"]]
        fig.add_trace(go.Scatter(x=rx, y=ry, mode="markers",
                                 marker=dict(color=PT_COL, size=5, line=dict(width=0)), **common))
        fig.add_trace(go.Scatter(x=d, y=f, mode="lines",
                                 line=dict(color="black", width=1.1, shape="spline", smoothing=0.8), **common))
        if p["kind"] == "doy":
            yr = ylo + 1.6 * per_px
            for a, b in p["rug"]:
                fig.add_trace(go.Scatter(x=[a, b], y=[yr, yr], mode="lines",
                                         line=dict(color="#6b6b6b", width=3), **common))
        else:
            yr = ylo + 2.2 * per_px
            fig.add_trace(go.Scatter(x=rx, y=[yr] * len(rx), mode="markers",
                                     marker=dict(symbol="line-ns", size=4.5,
                                                 line=dict(width=1, color="rgba(25,25,25,0.8)")),
                                     **common))

    # texts
    ann(p["title"], x0 - 1, y0 - 23.3, 13.3)
    if p["sub"]:
        ann(p["sub"], x0 - 1, y0 - 9.5, 11)
    ann(p["xlab"], (x0 + x1) / 2, y1 + 18, 11, xanchor="center")
    ylab_x = [14, 242.8, 472.5][c]
    ann(p["ylab"], ylab_x, (y0 + y1) / 2, 11, xanchor="center", angle=-90)
    ann(p["cap"], x1 + 1, y1 + 31.5, 8, xanchor="right")

fig.update_layout(
    width=FW, height=FH, margin=dict(l=0, r=0, t=0, b=0),
    paper_bgcolor="white", plot_bgcolor="#EBEBEB",
    font=dict(family=FONT, color="black"),
    showlegend=False, annotations=annotations, **axes)

fig.write_html("out.html")
